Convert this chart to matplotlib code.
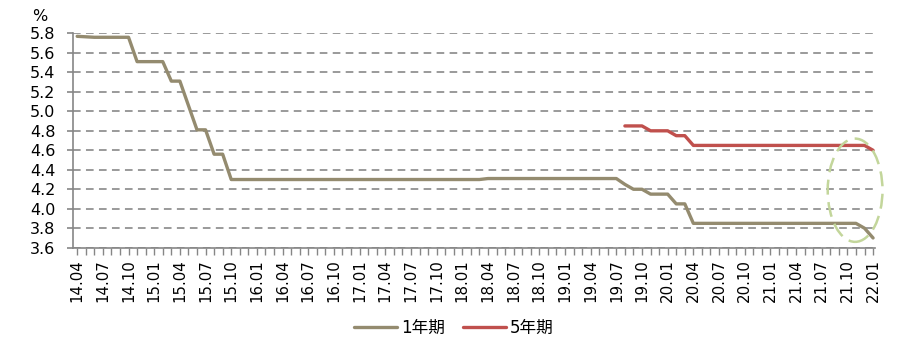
import numpy as np
import pandas as pd
import matplotlib
matplotlib.use("Agg")
import matplotlib.pyplot as plt
from matplotlib.patches import Ellipse

plt.rcParams['font.family'] = ['DejaVu Sans', 'Noto Sans CJK SC']

# monthly LPR, 2014.04 - 2022.01
months = pd.period_range('2014-04', '2022-01', freq='M')
month_labels = [m.strftime('%y.%m') for m in months]

one_year = [
    5.77, 5.765, 5.76, 5.76, 5.76, 5.76, 5.76, 5.51, 5.51,          # 14.04-14.12
    5.51, 5.51, 5.31, 5.31, 5.06, 4.81, 4.81, 4.56, 4.56, 4.30, 4.30, 4.30,  # 2015
    4.30, 4.30, 4.30, 4.30, 4.30, 4.30, 4.30, 4.30, 4.30, 4.30, 4.30, 4.30,  # 2016
    4.30, 4.30, 4.30, 4.30, 4.30, 4.30, 4.30, 4.30, 4.30, 4.30, 4.30, 4.30,  # 2017
    4.30, 4.30, 4.30, 4.31, 4.31, 4.31, 4.31, 4.31, 4.31, 4.31, 4.31, 4.31,  # 2018
    4.31, 4.31, 4.31, 4.31, 4.31, 4.31, 4.31, 4.25, 4.20, 4.20, 4.15, 4.15,  # 2019
    4.15, 4.05, 4.05, 3.85, 3.85, 3.85, 3.85, 3.85, 3.85, 3.85, 3.85, 3.85,  # 2020
    3.85, 3.85, 3.85, 3.85, 3.85, 3.85, 3.85, 3.85, 3.85, 3.85, 3.85, 3.80,  # 2021
    3.70,                                                                     # 2022
]

# 5-year LPR starts with the reform in 2019.08
five_year_start = '2019-08'
five_year = [
    4.85, 4.85, 4.85, 4.80, 4.80,                                            # 2019
    4.80, 4.75, 4.75, 4.65, 4.65, 4.65, 4.65, 4.65, 4.65, 4.65, 4.65, 4.65,  # 2020
    4.65, 4.65, 4.65, 4.65, 4.65, 4.65, 4.65, 4.65, 4.65, 4.65, 4.65, 4.65,  # 2021
    4.60,                                                                     # 2022
]

x = np.arange(len(months))
start = list(months).index(pd.Period(five_year_start, freq='M'))
x5 = np.arange(start, start + len(five_year))

fig = plt.figure(figsize=(9.02, 3.59), dpi=100)
ax = fig.add_axes([0.0813, 0.310, 0.889, 0.597])

grey = '#868686'
ax.plot(x, one_year, color='#948B6F', lw=2.4, label='1年期',
        solid_joinstyle='round', solid_capstyle='round', zorder=3)
ax.plot(x5, five_year, color='#C0504D', lw=2.4, label='5年期',
        solid_joinstyle='round', solid_capstyle='round', zorder=3)

ax.set_ylim(3.6, 5.8)
ax.set_yticks(np.arange(3.6, 5.81, 0.2))
ax.set_yticklabels([f'{v:.1f}' for v in np.arange(3.6, 5.81, 0.2)])
ax.set_xlim(-0.45, 93.25)
ax.set_xticks(x, minor=True)
ax.set_xticks(x[::3])
ax.set_xticklabels(month_labels[::3], rotation=90)

ax.yaxis.grid(True, ls=(0, (5, 3.5)), color='#7F7F7F', lw=1.1)
ax.set_axisbelow(True)
for s in ['top', 'right']:
    ax.spines[s].set_visible(False)
for s in ['left', 'bottom']:
    ax.spines[s].set_color(grey)
    ax.spines[s].set_linewidth(1.2)

ax.tick_params(axis='y', length=4, width=1.2, color=grey, pad=9, labelsize=11.5)
ax.tick_params(axis='x', which='both', length=5, width=1, color=grey, pad=3, labelsize=10.8)

fig.text(0.036, 0.955, '%', fontsize=11.5, ha='left', va='center')

# highlight of the latest cut
ax.add_patch(Ellipse((90.9, 4.19), 6.4, 1.06, fill=False, ls=(0, (6, 3)),
                     ec='#C3D69B', lw=1.8, clip_on=False, zorder=4))

ax.legend(loc='center', bbox_to_anchor=(0.503, 0.086), bbox_transform=fig.transFigure,
          ncol=2, frameon=False, handlelength=2.6, handletextpad=0.2,
          columnspacing=1.1, prop={'family': ['DejaVu Sans', 'Noto Sans CJK SC'], 'size': 12})

fig.savefig('out.png', dpi=100)
